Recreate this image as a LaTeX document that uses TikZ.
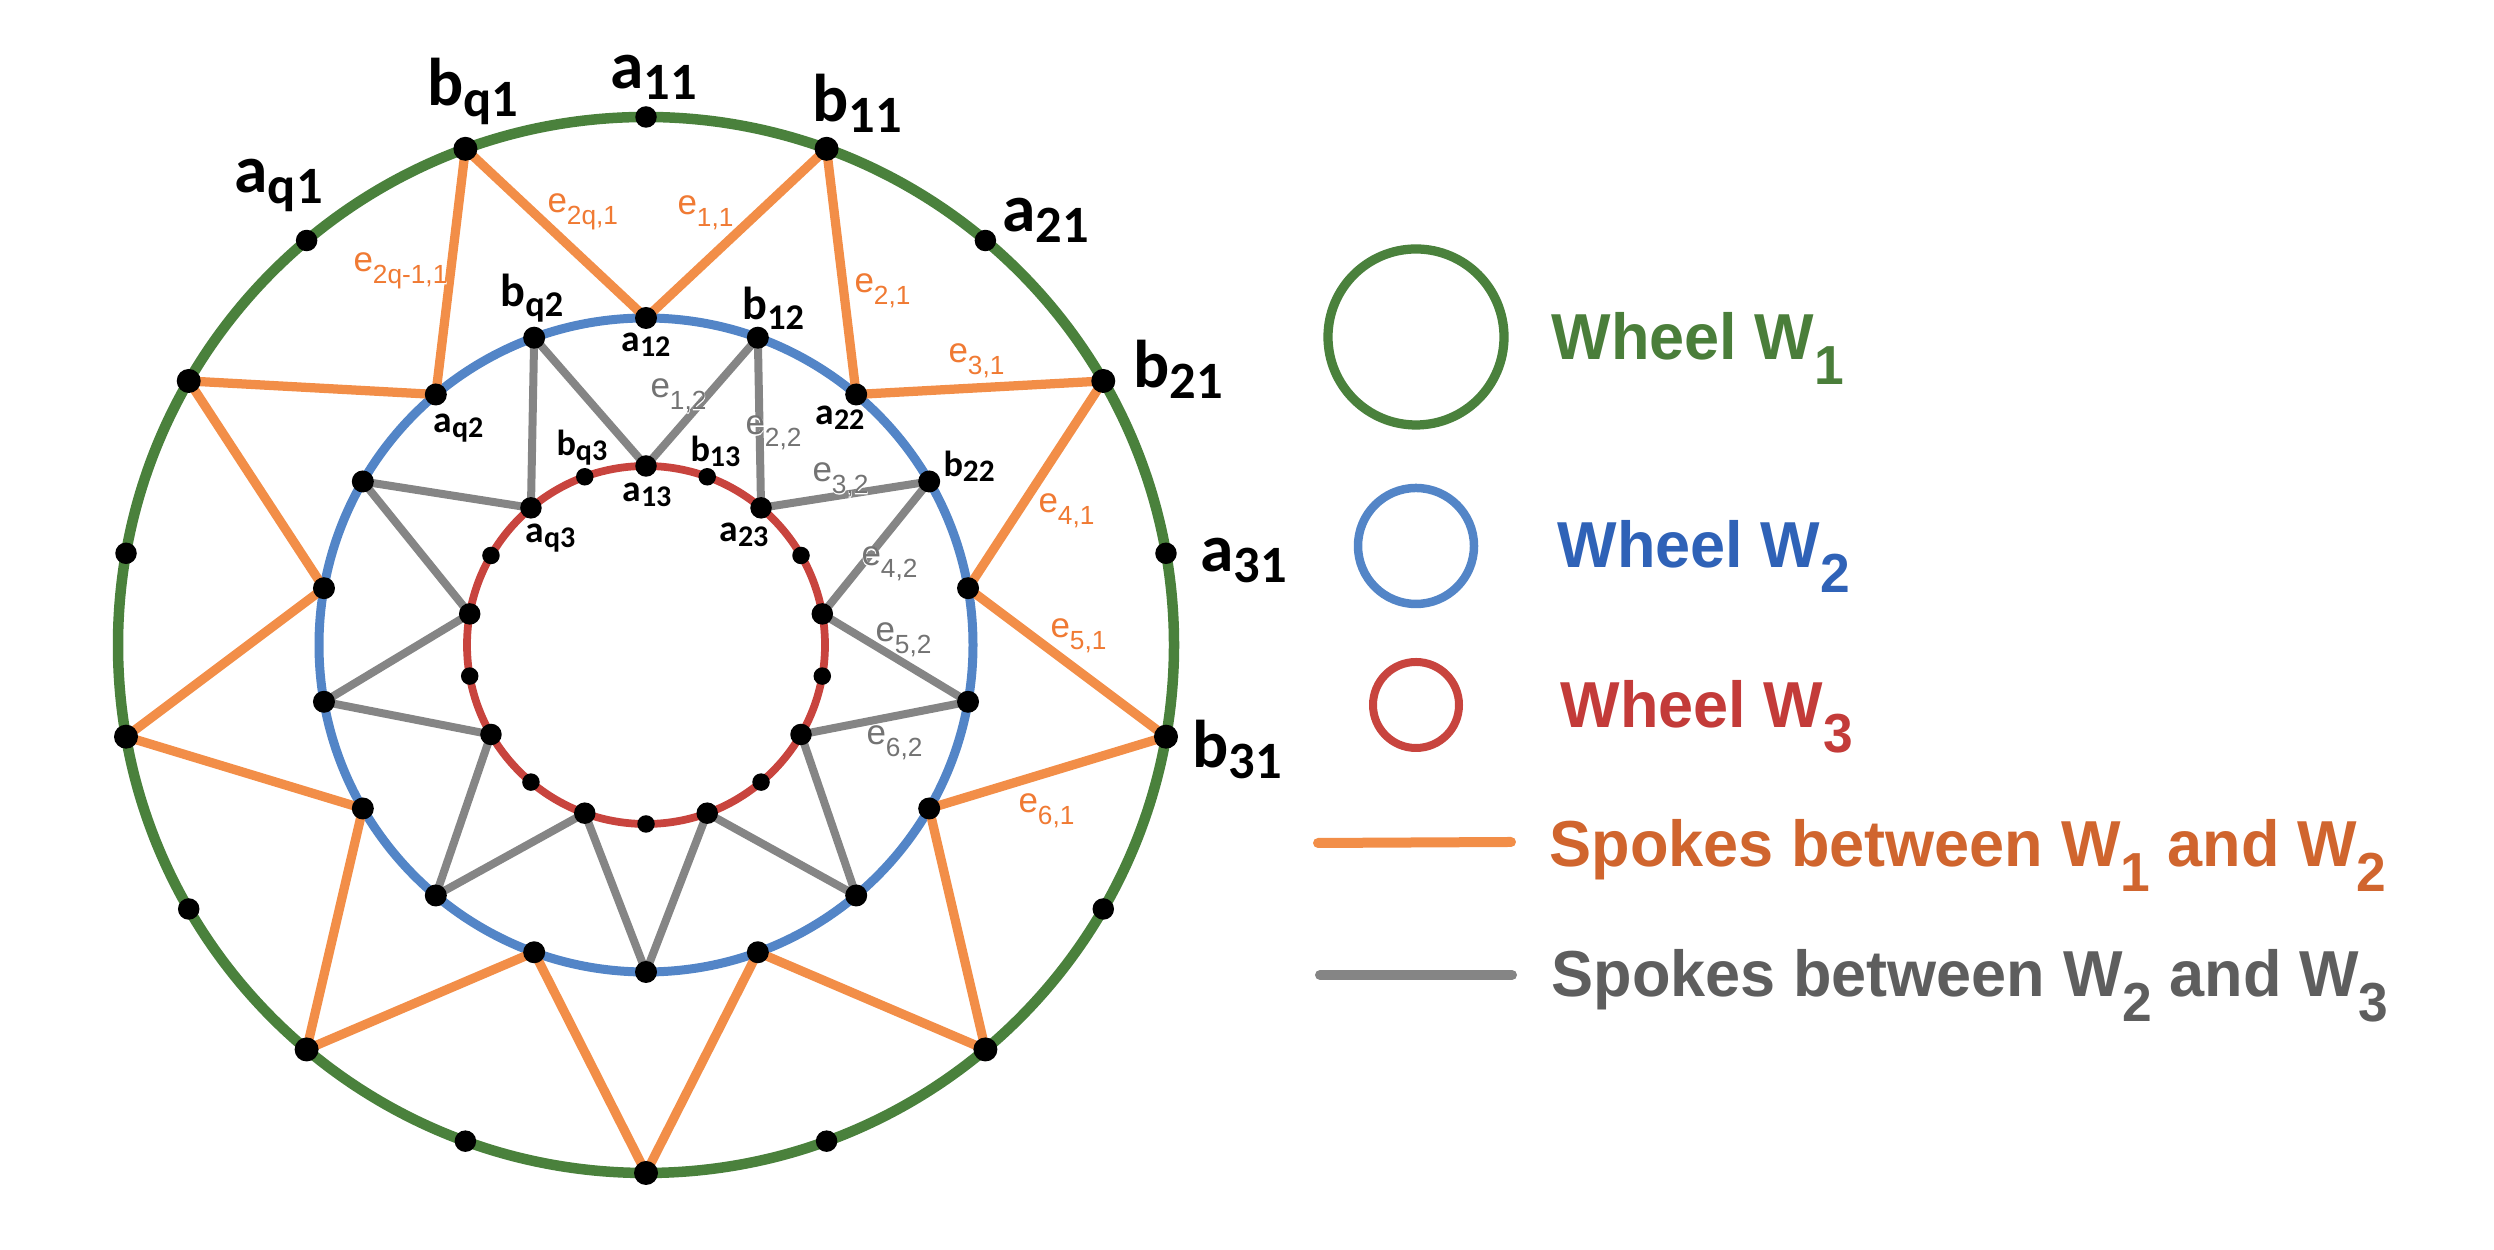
\documentclass[tikz,border=0pt]{standalone}
\usepackage{fontspec}
\newfontfamily\calfont{Carlito}
\newfontfamily\helvfont{Liberation Sans}
\newfontfamily\helvhalo{Liberation Sans}[FakeBold=3]
\definecolor{wgreen}{HTML}{4A813C}
\definecolor{wblue}{HTML}{5385C7}
\definecolor{wred}{HTML}{C8443E}
\definecolor{sorange}{HTML}{F28E48}
\definecolor{sgray}{HTML}{858585}
\definecolor{eorange}{HTML}{F07A33}
\definecolor{egray}{HTML}{737373}
\definecolor{tgreen}{HTML}{4A7E3A}
\definecolor{tblue}{HTML}{2F62B7}
\definecolor{tred}{HTML}{C33B39}
\definecolor{torange}{HTML}{D0652E}
\definecolor{tgray}{HTML}{5E5E5E}
% vertex label: #1 main size, #2 sub size, #3 drop, #4 letter, #5 subscript
\newcommand{\wl}[5]{{\calfont\bfseries\fontsize{#1}{#1}\selectfont #4\raisebox{-#3}{\fontsize{#2}{#2}\selectfont #5}}}
% edge label and its white halo
\newcommand{\el}[1]{{\helvfont\fontsize{14}{14}\selectfont e\raisebox{-4.8pt}{\fontsize{10.5}{10.5}\selectfont #1}}}
\newcommand{\elh}[1]{{\helvhalo\fontsize{14}{14}\selectfont e\raisebox{-4.8pt}{\fontsize{10.5}{10.5}\selectfont #1}}}
\newcommand{\edgelab}[4]{%
  \node[#1,text=white] (#2h) at #3 {\elh{#4}};
  \node[#1] (#2) at #3 {\el{#4}};}
% legend text
\newcommand{\lsub}[1]{\raisebox{-10pt}{\fontsize{22}{22}\selectfont #1}}
\newcommand{\lgt}[1]{\scalebox{0.97}[1]{\helvfont\bfseries\fontsize{26}{26}\selectfont #1}}
\begin{document}
\begin{tikzpicture}[x=0.4pt,y=0.4pt,
  wone/.style={draw=wgreen,line width=4.2pt},
  wtwo/.style={draw=wblue,line width=3.6pt},
  wthree/.style={draw=wred,line width=3.1pt},
  spokeA/.style={draw=sorange,line width=3.7pt,line join=round},
  spokeB/.style={draw=sgray,line width=3.2pt,line join=round},
  dotOa/.style={circle,fill=black,inner sep=0pt,minimum size=8.6pt},
  dotOb/.style={circle,fill=black,inner sep=0pt,minimum size=9.6pt},
  dotM/.style={circle,fill=black,inner sep=0pt,minimum size=8.8pt},
  dotIa/.style={circle,fill=black,inner sep=0pt,minimum size=8.6pt},
  dotIb/.style={circle,fill=black,inner sep=0pt,minimum size=7pt},
  vlab/.style={anchor=base west,inner sep=0pt,text=black},
  elabA/.style={anchor=base west,inner sep=0pt,text=eorange},
  elabB/.style={anchor=base west,inner sep=0pt,text=egray},
  ltext/.style={anchor=base west,inner sep=0pt},
  legA/.style={draw=sorange,line width=4pt,line cap=round},
  legB/.style={draw=sgray,line width=4pt,line cap=round}
]
\useasboundingbox (0,0) rectangle (2494,1250);
\coordinate (C) at (646,605);
\foreach \k in {0,...,17}{
  \coordinate (o\k) at ({646+528*sin(20*\k)},{605+528*cos(20*\k)});
  \coordinate (m\k) at ({646+327*sin(20*\k)},{605+327*cos(20*\k)});
  \coordinate (i\k) at ({646+179*sin(20*\k)},{605+179*cos(20*\k)});
}
% wheels
\draw[wone] (C) circle[radius=528];
\draw[wtwo] (C) circle[radius=327];
\draw[wthree] (C) circle[radius=179];
% spokes
\foreach \k in {1,3,...,17}{
  \pgfmathtruncatemacro{\p}{\k-1}
  \pgfmathtruncatemacro{\n}{mod(\k+1,18)}
  \draw[spokeA] (m\p) -- (o\k) -- (m\n);
  \draw[spokeB] (i\p) -- (m\k) -- (i\n);
}
% dots
\foreach \k in {0,2,...,16}{
  \node[dotOa] (do\k) at (o\k) {};
  \node[dotM] (dm\k) at (m\k) {};
  \node[dotIa] (di\k) at (i\k) {};
}
\foreach \k in {1,3,...,17}{
  \node[dotOb] (do\k) at (o\k) {};
  \node[dotM] (dm\k) at (m\k) {};
  \node[dotIb] (di\k) at (i\k) {};
}
% outer labels
\node[vlab] (la11) at (610,1161) {\wl{27}{21}{4.2pt}{a}{11}};
\node[vlab] (lb11) at (812,1128) {\wl{27}{21}{4.2pt}{b}{11}};
\node[vlab] (lbq1) at (427,1144) {\wl{27}{21}{4.2pt}{b}{q1}};
\node[vlab] (laq1) at (234,1057) {\wl{27}{21}{4.2pt}{a}{q1}};
\node[vlab] (la21) at (1002,1018) {\wl{27}{21}{4.2pt}{a}{21}};
\node[vlab] (lb21) at (1133,862) {\wl{27}{21}{4.2pt}{b}{21}};
\node[vlab] (la31) at (1200,678) {\wl{27}{21}{4.2pt}{a}{31}};
\node[vlab] (lb31) at (1192,482) {\wl{27}{21}{4.2pt}{b}{31}};
% middle labels
\node[vlab] (la12) at (621,898) {\wl{15}{12}{2pt}{a}{12}};
\node[vlab] (lb12) at (742,930) {\wl{18.5}{14.5}{4pt}{b}{12}};
\node[vlab] (lbq2) at (500,943) {\wl{18.5}{14.5}{4pt}{b}{q2}};
\node[vlab] (la22) at (815,825) {\wl{15}{12}{2pt}{a}{22}};
\node[vlab] (lb22) at (943,773) {\wl{14.5}{12.5}{2pt}{b}{22}};
\node[vlab] (laq2) at (433,817) {\wl{15}{12}{2pt}{a}{q2}};
% inner labels
\node[vlab] (la13) at (622,748) {\wl{15}{12}{2pt}{a}{13}};
\node[vlab] (lb13) at (690,788) {\wl{14.5}{12}{2pt}{b}{13}};
\node[vlab] (lbq3) at (556,794) {\wl{14.5}{12}{2pt}{b}{q3}};
\node[vlab] (la23) at (719,708) {\wl{15}{12}{2pt}{a}{23}};
\node[vlab] (laq3) at (525,707) {\wl{15}{12}{2pt}{a}{q3}};
% orange edge labels
\edgelab{elabA}{e2q1}{(547,1037)}{2q,1}
\edgelab{elabA}{e11}{(677,1035)}{1,1}
\edgelab{elabA}{e21}{(854,957)}{2,1}
\edgelab{elabA}{e31}{(948,887)}{3,1}
\edgelab{elabA}{e41}{(1038,737)}{4,1}
\edgelab{elabA}{e51}{(1050,612)}{5,1}
\edgelab{elabA}{e61}{(1018,437)}{6,1}
\edgelab{elabA}{e2qm1}{(353,978)}{2q-1,1}
% gray edge labels
\edgelab{elabB}{e12}{(650,852)}{1,2}
\edgelab{elabB}{e22}{(745,815)}{2,2}
\edgelab{elabB}{e32}{(812,768)}{3,2}
\edgelab{elabB}{e42}{(861,684)}{4,2}
\edgelab{elabB}{e52}{(875,608)}{5,2}
\edgelab{elabB}{e62}{(866,505)}{6,2}
% legend
\draw[draw=wgreen,line width=3.7pt] (1416,913) circle[radius=88];
\draw[draw=wblue,line width=3.4pt] (1416,704) circle[radius=58];
\draw[draw=wred,line width=3.2pt] (1416,545) circle[radius=43];
\coordinate (loa) at (1318,407);
\coordinate (lob) at (1511,408);
\coordinate (lga) at (1320,275);
\coordinate (lgb) at (1512,275);
\draw[legA] (loa) -- (lob);
\draw[legB] (lga) -- (lgb);
\node[ltext,text=tgreen] (lt1) at (1551,890) {\lgt{Wheel W\lsub{1}}};
\node[ltext,text=tblue] (lt2) at (1557,682) {\lgt{Wheel W\lsub{2}}};
\node[ltext,text=tred] (lt3) at (1560,522) {\lgt{Wheel W\lsub{3}}};
\node[ltext,text=torange] (lt4) at (1549,383) {\lgt{Spokes between W\lsub{1} and W\lsub{2}}};
\node[ltext,text=tgray] (lt5) at (1551,253) {\lgt{Spokes between W\lsub{2} and W\lsub{3}}};
\end{tikzpicture}
\end{document}
